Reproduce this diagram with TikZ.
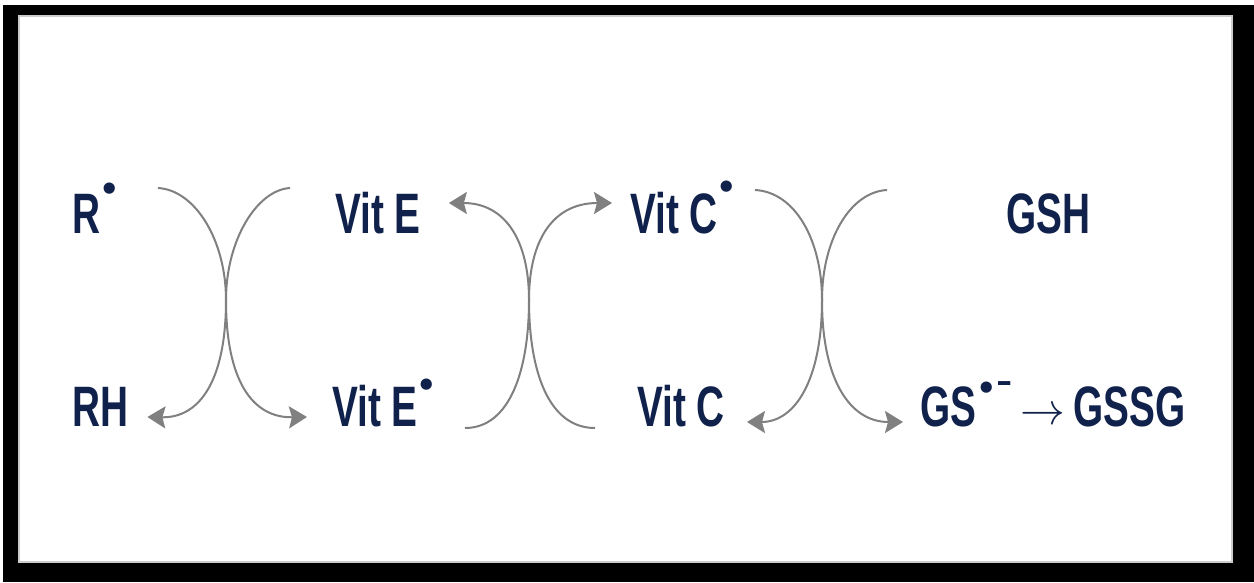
\documentclass[tikz,border=0pt]{standalone}
\usepackage{fontspec}
\newfontfamily\labfont{Liberation Sans}[FakeStretch=0.68]
\newfontfamily\symfont{DejaVu Sans}
\usetikzlibrary{arrows.meta}
\definecolor{navy}{RGB}{16,34,76}
\definecolor{arrgray}{RGB}{128,128,128}
\newcommand{\radot}[1][31pt]{\hspace{-1pt}\raisebox{#1}{\symfont\fontsize{32}{32}\selectfont •}}
\newcommand{\radminus}{\raisebox{31pt}{\fontsize{36}{36}\selectfont −}}
\begin{document}
\begin{tikzpicture}[x=1pt,y=-1pt,
  lbl/.style={anchor=base west, inner sep=0pt, text=navy,
    font=\labfont\bfseries\fontsize{57}{60}\selectfont},
  conn/.style={draw=arrgray, line width=2pt,
    -{Stealth[length=18pt,width=22pt,inset=3pt]}}]
\useasboundingbox (0,0) rectangle (1254,582);
\fill[white] (0,0) rectangle (1254,582);
\fill[black] (3,5) rectangle (1254,582);
\fill[white] (18,15) rectangle (1233,563);
\draw[gray!40, line width=2pt] (19,16) rectangle (1232,562);

% labels
\node[lbl] (R)   at (72,233)  {R\radot[33pt]};
\node[lbl] (RH)  at (72,426)  {RH};
\node[lbl] (VE)  at (335,233) {Vit E};
\node[lbl] (VEr) at (332,426) {Vit E\radot[30pt]};
\node[lbl] (VCr) at (630,233) {Vit C\radot[35pt]};
\node[lbl] (VC)  at (637,426) {Vit C};
\node[lbl] (GSH) at (1006,233) {GSH};
\node[lbl] (GS)  at (920,426) {GS\hspace{1pt}\radot[27pt]\hspace{1pt}\radminus\hspace{9pt}\raisebox{2pt}{\scalebox{1.8}{\fontsize{24}{24}\selectfont$\rightarrow$}}\hspace{8pt}GSSG};

% free ends
\coordinate (a1) at (158,188);
\coordinate (b1) at (290,188);
\coordinate (c1) at (595,428);
\coordinate (d1) at (465,428);
\coordinate (e1) at (755,190);
\coordinate (f1) at (887,190);

% pair 1
\draw[conn] (a1) .. controls (195,190) and (226,240) .. (226,300)
  .. controls (226,380) and (252,418) .. ([xshift=-25pt,yshift=9pt]VEr.base west);
\draw[conn] (b1) .. controls (257,190) and (226,240) .. (226,300)
  .. controls (226,380) and (200,418) .. ([xshift=19pt,yshift=9pt]RH.base east);
% pair 2
\draw[conn] (c1) .. controls (548,428) and (529,370) .. (529,300)
  .. controls (529,240) and (505,203) .. ([xshift=28pt,yshift=30pt]VE.base east);
\draw[conn] (d1) .. controls (510,428) and (529,370) .. (529,300)
  .. controls (529,240) and (553,203) .. ([xshift=-18pt,yshift=30pt]VCr.base west);
% pair 3
\draw[conn] (e1) .. controls (795,192) and (822,240) .. (822,300)
  .. controls (822,380) and (850,422) .. ([xshift=-17pt,yshift=4pt]GS.base west);
\draw[conn] (f1) .. controls (850,192) and (822,240) .. (822,300)
  .. controls (822,380) and (795,422) .. ([xshift=22pt,yshift=4pt]VC.base east);
\end{tikzpicture}
\end{document}
